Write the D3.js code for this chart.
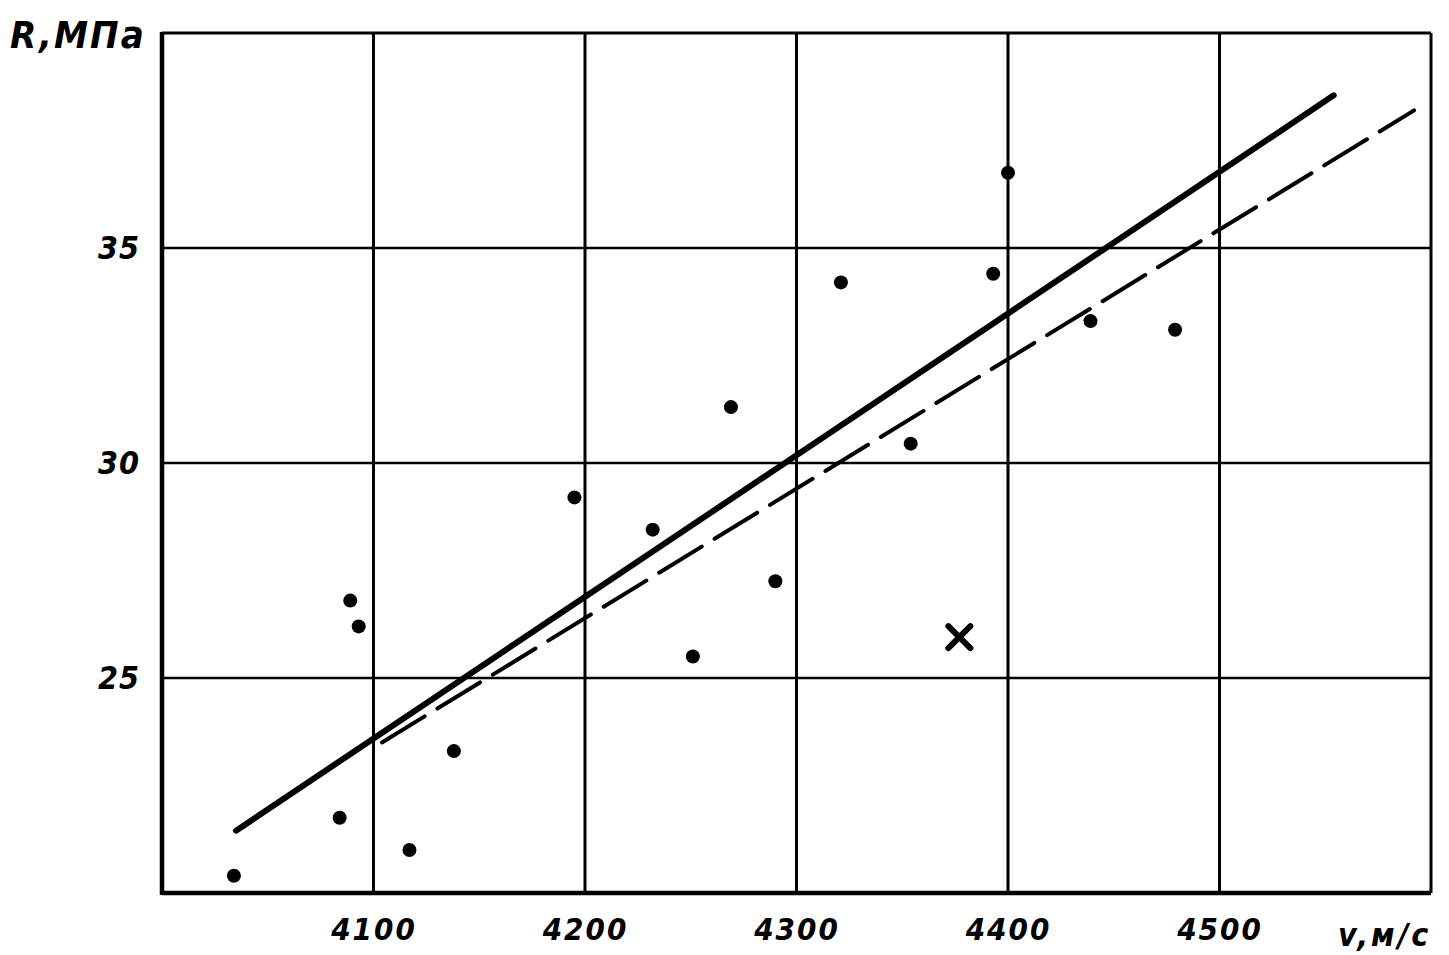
<!DOCTYPE html>
<html><head><meta charset="utf-8">
<script src="https://cdn.jsdelivr.net/npm/d3@7"></script>
<style>
body{margin:0;background:#fff;}
text{font-family:"DejaVu Sans Condensed","DejaVu Sans",sans-serif;font-stretch:condensed;font-style:italic;font-weight:bold;fill:#000;}
</style></head><body>
<svg id="c" width="1449" height="955"></svg>
<script>
const xTicks = [4100, 4200, 4300, 4400, 4500];
const yTicks = [25, 30, 35];
const pointsV = [4034, 4084, 4089, 4093, 4117, 4138, 4195, 4232, 4251, 4269, 4290, 4321, 4354, 4393, 4400, 4439, 4479];
const pointsR = [20.4, 21.75, 26.8, 26.2, 21.0, 23.3, 29.2, 28.45, 25.5, 31.3, 27.25, 34.2, 30.45, 34.4, 36.75, 33.3, 33.1];
const outlierV = [4377];
const outlierR = [25.95];
const solidLineV = [4035, 4554];
const solidLineR = [21.45, 38.55];
const dashedLineV = [4104, 4592];
const dashedLineR = [23.5, 38.2];

const svg = d3.select("#c");
const L = 162, R = 1431, T = 33, B = 893;
const x = d3.scaleLinear().domain([4000, 4600]).range([L, R]);
const y = d3.scaleLinear().domain([20, 40]).range([B, T]);

// grid
svg.append("g").selectAll("line").data(xTicks).join("line")
  .attr("x1", d => x(d)).attr("x2", d => x(d)).attr("y1", T).attr("y2", B)
  .attr("stroke", "#000").attr("stroke-width", 3);
svg.append("g").selectAll("line").data(yTicks).join("line")
  .attr("x1", L).attr("x2", R).attr("y1", d => y(d)).attr("y2", d => y(d))
  .attr("stroke", "#000").attr("stroke-width", 2.5);
// frame
svg.append("line").attr("x1", L).attr("x2", R).attr("y1", T).attr("y2", T).attr("stroke", "#000").attr("stroke-width", 3);
svg.append("line").attr("x1", R).attr("x2", R).attr("y1", T).attr("y2", B).attr("stroke", "#000").attr("stroke-width", 3);
svg.append("line").attr("x1", L).attr("x2", L).attr("y1", T-1).attr("y2", B+2).attr("stroke", "#000").attr("stroke-width", 4.5);
svg.append("line").attr("x1", L).attr("x2", R).attr("y1", B).attr("y2", B).attr("stroke", "#000").attr("stroke-width", 4.5);

// axes labels via d3 axis
const xAxis = d3.axisBottom(x).tickValues(xTicks).tickSize(0).tickPadding(25).tickFormat(d3.format("d"));
const gx = svg.append("g").attr("transform", `translate(0,${B})`).call(xAxis);
gx.select(".domain").remove();
gx.selectAll("text").style("font-size", "31px").attr("fill", "#000").attr("letter-spacing", "2px")
  .style("font-family", null);
const yAxis = d3.axisLeft(y).tickValues(yTicks).tickSize(0).tickPadding(22);
const gy = svg.append("g").attr("transform", `translate(${L},0)`).call(yAxis);
gy.select(".domain").remove();
gy.selectAll("text").style("font-size", "32px").attr("fill", "#000").attr("letter-spacing", "1px")
  .style("font-family", null);

svg.append("text").attr("x", 10).attr("y", 48).style("font-size", "38px").attr("letter-spacing", "2px").text("R,МПа");
svg.append("text").attr("x", 1338).attr("y", 946).style("font-size", "32px").attr("letter-spacing", "3px").text("v,м/с");

// regression lines
const line = d3.line().x(d => x(d[0])).y(d => y(d[1]));
svg.append("path").attr("d", line(d3.zip(solidLineV, solidLineR)))
  .attr("stroke", "#000").attr("stroke-width", 6).attr("fill", "none").attr("stroke-linecap", "round");
svg.append("path").attr("d", line(d3.zip(dashedLineV, dashedLineR)))
  .attr("stroke", "#000").attr("stroke-width", 4).attr("fill", "none")
  .attr("stroke-dasharray", "50,15").attr("stroke-linecap", "round");

// points
svg.append("g").selectAll("circle").data(d3.zip(pointsV, pointsR)).join("circle")
  .attr("cx", d => x(d[0])).attr("cy", d => y(d[1])).attr("r", 7).attr("fill", "#000");

// outlier cross
const s = 11;
svg.append("g").selectAll("path").data(d3.zip(outlierV, outlierR)).join("path")
  .attr("d", d => { const cx = x(d[0]), cy = y(d[1]);
    return `M${cx-s},${cy-s}L${cx+s},${cy+s}M${cx-s},${cy+s}L${cx+s},${cy-s}`; })
  .attr("stroke", "#000").attr("stroke-width", 6).attr("stroke-linecap", "round");
</script>
</body></html>
